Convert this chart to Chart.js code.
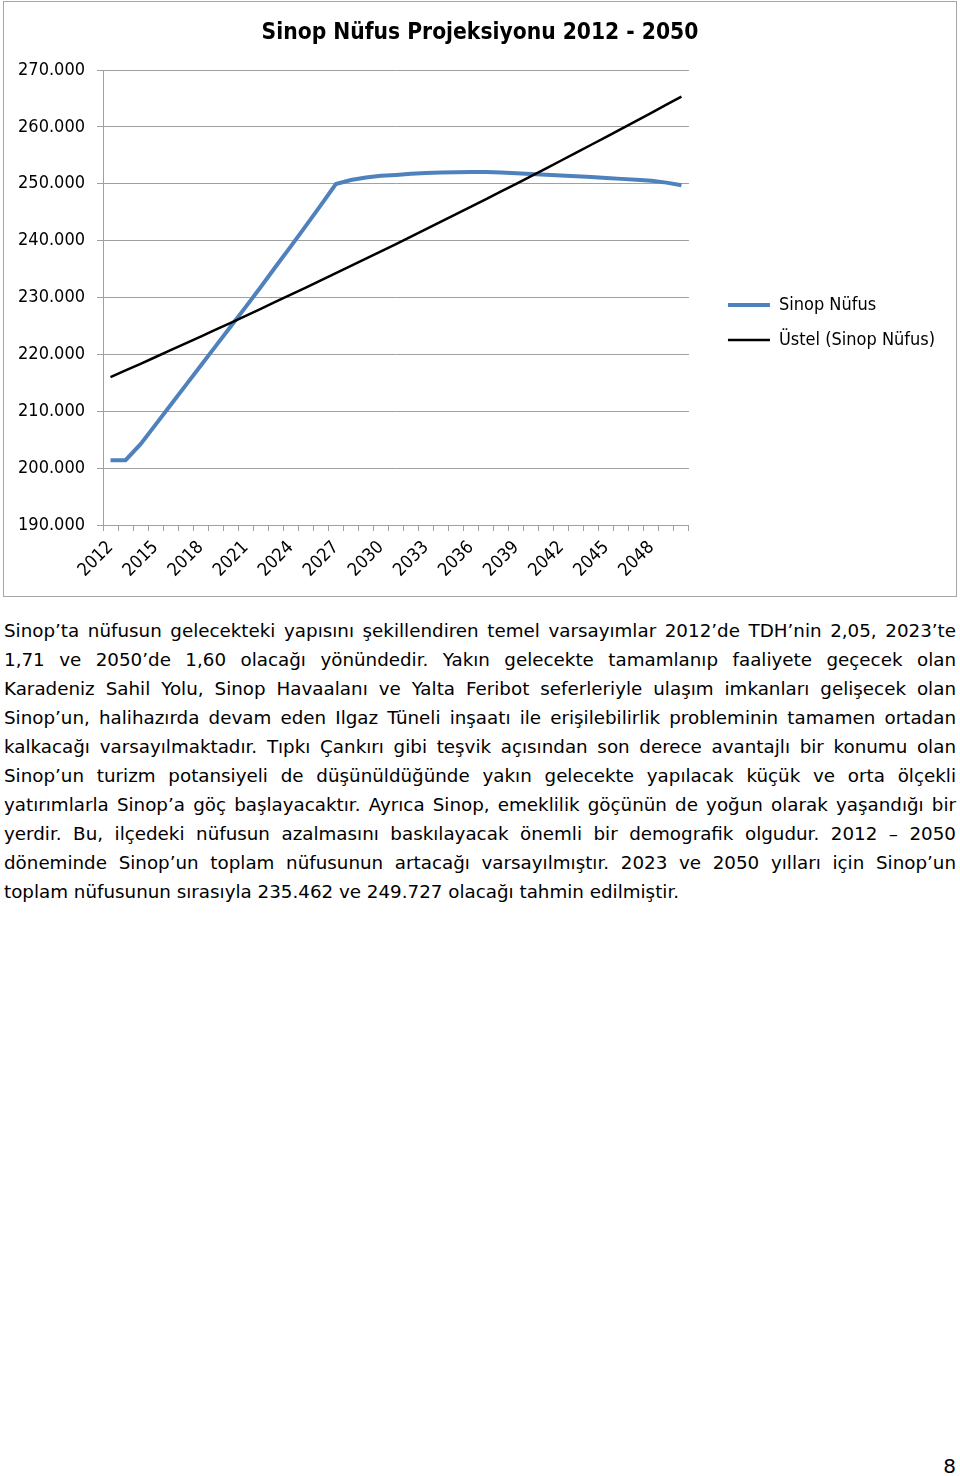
<!DOCTYPE html>
<html>
<head>
<meta charset="utf-8">
<script src="https://cdn.jsdelivr.net/npm/chart.js"></script>
<style>
body{margin:0;background:#fff;width:960px;height:1476px;position:relative;font-family:'DejaVu Sans',sans-serif;color:#000;}
#frame{position:absolute;left:3px;top:1px;width:952px;height:594px;border:1px solid #a6a6a6;}
#text{position:absolute;left:4px;top:616px;width:952px;font-size:18.3px;line-height:29px;}
#text div{text-align:justify;text-align-last:justify;white-space:nowrap;}
#text div.last{text-align-last:left;}
#page{position:absolute;right:4px;top:1454px;font-size:20px;}
</style>
</head>
<body>
<div id="frame"><canvas id="myChart" width="952" height="594"></canvas></div>
<div id="text">
<div>Sinop’ta nüfusun gelecekteki yapısını şekillendiren temel varsayımlar 2012’de TDH’nin 2,05, 2023’te</div>
<div>1,71 ve 2050’de 1,60 olacağı yönündedir. Yakın gelecekte tamamlanıp faaliyete geçecek olan</div>
<div>Karadeniz Sahil Yolu, Sinop Havaalanı ve Yalta Feribot seferleriyle ulaşım imkanları gelişecek olan</div>
<div>Sinop’un, halihazırda devam eden Ilgaz Tüneli inşaatı ile erişilebilirlik probleminin tamamen ortadan</div>
<div>kalkacağı varsayılmaktadır. Tıpkı Çankırı gibi teşvik açısından son derece avantajlı bir konumu olan</div>
<div>Sinop’un turizm potansiyeli de düşünüldüğünde yakın gelecekte yapılacak küçük ve orta ölçekli</div>
<div>yatırımlarla Sinop’a göç başlayacaktır. Ayrıca Sinop, emeklilik göçünün de yoğun olarak yaşandığı bir</div>
<div>yerdir. Bu, ilçedeki nüfusun azalmasını baskılayacak önemli bir demografik olgudur. 2012 – 2050</div>
<div>döneminde Sinop’un toplam nüfusunun artacağı varsayılmıştır. 2023 ve 2050 yılları için Sinop’un</div>
<div class="last">toplam nüfusunun sırasıyla 235.462 ve 249.727 olacağı tahmin edilmiştir.</div>
</div>
<div id="page">8</div>
<script>
var years = ["2012","2013","2014","2015","2016","2017","2018","2019","2020","2021",
  "2022","2023","2024","2025","2026","2027","2028","2029","2030","2031",
  "2032","2033","2034","2035","2036","2037","2038","2039","2040","2041",
  "2042","2043","2044","2045","2046","2047","2048","2049","2050"];
var shownYears = ["2012","2015","2018","2021","2024","2027","2030","2033","2036","2039","2042","2045","2048"];

var nufus = [201400, 201400, 204200, 207650, 211100, 214550, 218000, 221450, 224900, 228350,
  231850, 235462, 239000, 242600, 246250, 249950, 250650, 251100, 251400, 251550,
  251750, 251880, 251980, 252030, 252060, 252050, 251960, 251850, 251720, 251580,
  251440, 251300, 251170, 251020, 250860, 250690, 250520, 250200, 249727];

var ustel = [216000, 217170, 218350, 219540, 220730, 221930, 223130, 224340, 225560, 226790,
  228020, 229260, 230500, 231750, 233010, 234280, 235550, 236830, 238110, 239400,
  240700, 242010, 243330, 244650, 245970, 247310, 248650, 250000, 251360, 252720,
  254090, 255470, 256860, 258250, 259650, 261060, 262480, 263900, 265330];

var yMin = 190000;
var yMax = 270000;
var yStep = 10000;

var fam = "'DejaVu Sans Condensed', 'DejaVu Sans', sans-serif";
var grey = "#a0a0a0";

new Chart("myChart", {
  type: "line",
  data: {
    labels: years,
    datasets: [{
      label: "Sinop Nüfus",
      data: nufus,
      borderColor: "#4f81bd",
      backgroundColor: "#4f81bd",
      borderWidth: 4,
      pointRadius: 0,
      tension: 0,
      order: 1
    }, {
      label: "Üstel (Sinop Nüfus)",
      data: ustel,
      borderColor: "#000000",
      backgroundColor: "#000000",
      borderWidth: 2.5,
      pointRadius: 0,
      tension: 0,
      order: 0
    }]
  },
  options: {
    responsive: false,
    animation: false,
    devicePixelRatio: 1,
    layout: {padding: {left: 11, right: 11, top: 0, bottom: 0}},
    plugins: {
      tooltip: {enabled: false},
      title: {
        display: true,
        text: "Sinop Nüfus Projeksiyonu 2012 - 2050",
        color: "#000",
        font: {family: fam, size: 22.6, weight: "bold"},
        padding: {top: 18, bottom: 22.9}
      },
      legend: {
        position: "right",
        align: "start",
        maxWidth: 300,
        title: {display: true, text: "", font: {size: 10}, padding: {top: 265, bottom: 0}},
        labels: {
          color: "#000",
          font: {family: fam, size: 18},
          usePointStyle: true,
          pointStyle: "line",
          pointStyleWidth: 42,
          padding: 17,
          sort: (a, b) => a.datasetIndex - b.datasetIndex
        }
      }
    },
    scales: {
      x: {
        offset: true,
        grid: {display: true, drawOnChartArea: false, drawTicks: true, tickLength: 6, offset: true, color: grey},
        border: {display: true, color: grey},
        ticks: {
          autoSkip: false,
          maxRotation: 45,
          minRotation: 45,
          padding: 6,
          color: "#000",
          font: {family: fam, size: 18},
          callback: function(v, i) {
            var y = years[i];
            return shownYears.indexOf(y) >= 0 ? y : "";
          }
        },
        afterFit: function(s) { s.height = 71; }
      },
      y: {
        min: yMin,
        max: yMax,
        grid: {color: grey, tickLength: 6},
        border: {display: true, color: grey},
        ticks: {
          stepSize: yStep,
          padding: 12,
          color: "#000",
          font: {family: fam, size: 18},
          callback: function(v) { return (v / 1000) + ".000"; }
        },
        afterFit: function(s) { s.width = 88; }
      },
      gap: {
        type: "linear",
        position: "right",
        display: true,
        grid: {display: false},
        border: {display: false},
        ticks: {display: false},
        afterFit: function(s) { s.width = 22; }
      }
    }
  }
});
</script>
</body>
</html>
